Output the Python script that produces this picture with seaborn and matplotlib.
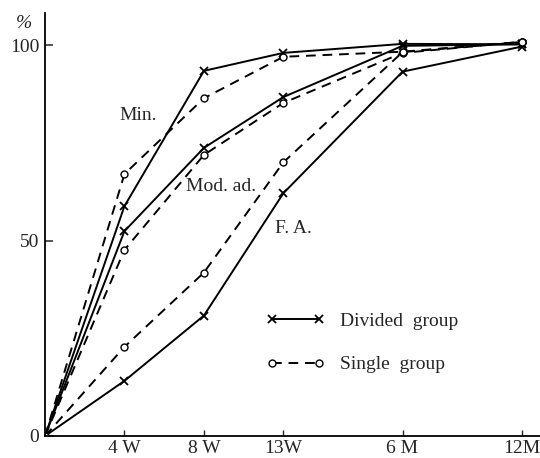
import matplotlib
matplotlib.use("Agg")
import matplotlib.pyplot as plt
from matplotlib.lines import Line2D
import seaborn as sns
import pandas as pd

# ---- data ----
time_labels = ["", "4 W", "8 W", "13W", "6 M", "12M"]
time_pos = [0, 1, 2, 3, 4.5, 6]

min_divided = [0, 58.8, 93.4, 98.0, 100.3, 100.2]
min_single = [0, 67.0, 86.4, 97.0, 98.3, 100.8]
mod_divided = [0, 52.4, 73.7, 86.7, 99.8, 100.2]
mod_single = [0, 47.6, 71.9, 85.2, 98.0, 100.8]
fa_divided = [0, 14.1, 30.8, 62.1, 93.2, 99.6]
fa_single = [0, 22.8, 41.8, 70.0, 98.2, 100.8]

group_labels = ["Min.", "Mod. ad.", "F. A."]
legend_labels = ["Divided  group", "Single  group"]

series = [
    ("Min.", "Divided", min_divided),
    ("Min.", "Single", min_single),
    ("Mod. ad.", "Divided", mod_divided),
    ("Mod. ad.", "Single", mod_single),
    ("F. A.", "Divided", fa_divided),
    ("F. A.", "Single", fa_single),
]

rows = []
for g, kind, vals in series:
    for p, v in zip(time_pos, vals):
        rows.append({"group": g, "kind": kind, "x": p, "y": v})
df = pd.DataFrame(rows)

sns.set_style("ticks")
plt.rcParams["font.family"] = ["Liberation Serif", "DejaVu Serif"]

FS = 14

fig = plt.figure(figsize=(5.4, 4.58), dpi=100)
ax = fig.add_axes([45 / 540, 1 - 436 / 458, 495 / 540, (436 - 13) / 458])

styles = {
    "Divided": dict(linestyle="-", marker="x", markersize=6, markeredgewidth=1.3,
                    mfc="black", mec="black"),
    "Single": dict(linestyle=(0, (5, 3.5)), marker="o", markersize=5, markeredgewidth=1.0,
                   mfc="white", mec="black"),
}

for g, kind, vals in series:
    sub = df[(df.group == g) & (df.kind == kind)]
    sns.lineplot(data=sub, x="x", y="y", ax=ax, color="black", linewidth=1.4,
                 sort=False, estimator=None, legend=False, **styles[kind])

ax.set_xlim(0, 6.23)
ax.set_ylim(0, 108.2)
ax.set_xticks(time_pos[1:])
ax.set_xticklabels(time_labels[1:], fontsize=FS)
ax.set_yticks([0, 50, 100])
ax.set_yticklabels(["0", "50", "100"], fontsize=FS)
ax.tick_params(axis="y", direction="in", length=6, width=1.1, pad=4)
ax.tick_params(axis="x", direction="in", length=4, width=1.0, pad=3)
ax.set_xlabel("")
ax.set_ylabel("")
sns.despine(ax=ax)
for s in ["left", "bottom"]:
    ax.spines[s].set_linewidth(1.3)
    ax.spines[s].set_color("black")

fig.text(24 / 540, 1 - 23 / 458, "%", fontsize=FS, ha="center", va="center",
         style="italic")

ax.text(0.94, 82.1, group_labels[0], fontsize=FS, ha="left", va="center")
ax.text(1.78, 63.7, group_labels[1], fontsize=FS, ha="left", va="center")
ax.text(2.89, 53.2, group_labels[2], fontsize=FS, ha="left", va="center")

handles = [
    Line2D([0], [0], color="black", linewidth=1.4, **styles["Divided"]),
    Line2D([0], [0], color="black", linewidth=1.4, **styles["Single"]),
]
leg = ax.legend(handles, legend_labels, loc="upper left",
                bbox_to_anchor=((266 - 45) / 495, 1 - (312 - 13) / 423),
                frameon=False, numpoints=2, handlelength=3.0, handletextpad=0.8,
                labelspacing=1.35, fontsize=FS, borderpad=0, borderaxespad=0)

fig.savefig("out.png", dpi=100, facecolor="white")
